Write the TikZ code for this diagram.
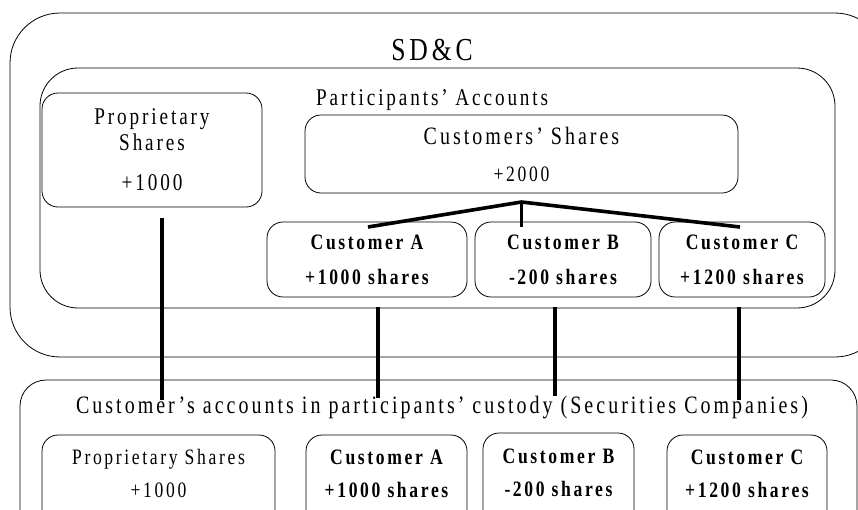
\documentclass[tikz,border=0pt]{standalone}
\usepackage{fontspec}
\setmainfont{Liberation Serif}[FakeStretch=0.8, LetterSpace=12]
\newcommand{\fsz}[1]{\fontsize{#1}{#1}\selectfont}
\begin{document}
\begin{tikzpicture}[x=1pt, y=-1pt,
  frame/.style={draw, line width=0.8pt, rounded corners=#1},
  box/.style={draw, line width=0.8pt, rounded corners=16pt, inner sep=0pt, align=center},
  lbl/.style={inner sep=0pt, align=center},
  link/.style={line width=3.6pt}]
\useasboundingbox (0,0) rectangle (858,509);
\clip (0,0) rectangle (858,509);

% SD&C depository and its participants' accounts
\draw[frame=50pt] (10,13) rectangle (885,357);
\node[lbl, font=\fsz{32}] (sdc) at (432,50) {SD\&C};
\draw[frame=38pt] (40,68) rectangle (835,308);
\node[lbl, font=\fsz{24}, anchor=west] (pacc) at (316,100) {Participants' Accounts};

\node[box, minimum width=220pt, minimum height=114pt, font=\fsz{24}] (prop) at (152,150)
  {Proprietary\\[2pt]Shares\\[16pt]+1000};
\node[box, minimum width=433pt, minimum height=78pt, font=\fsz{25}] (cust) at (521.5,154)
  {Customers' Shares\\[12pt]{\fsz{22}+2000}};

\node[box, minimum width=200pt, minimum height=75pt, font=\bfseries\fsz{22}] (ca) at (367,259.5)
  {Customer A\\[13pt]+1000 shares};
\node[box, minimum width=176pt, minimum height=75pt, font=\bfseries\fsz{22}] (cb) at (563,259.5)
  {Customer B\\[13pt]-200 shares};
\node[box, minimum width=166pt, minimum height=75pt, font=\bfseries\fsz{22}] (cc) at (742,259.5)
  {Customer C\\[13pt]+1200 shares};

% securities companies' custody accounts
\draw[frame=26pt] (20,380) rectangle (857,540);
\node[lbl, font=\fsz{25}] (ctitle) at (442,408)
  {Customer's accounts in participants' custody (Securities Companies)};

\node[box, minimum width=233pt, minimum height=100pt] (bprop) at (158.5,485) {};
\node[box, minimum width=161pt, minimum height=100pt] (ba) at (386.5,485) {};
\node[box, minimum width=151pt, minimum height=100pt] (bb) at (558.5,483) {};
\node[box, minimum width=160pt, minimum height=100pt] (bc) at (747,485) {};

\node[lbl, font=\fsz{22}] (bproptxt) at (bprop.north |- 0,473.5) {Proprietary Shares\\[11pt]+1000};
\node[lbl, font=\bfseries\fsz{22}] (batxt) at (ba.north |- 0,473.5) {Customer A\\[11pt]+1000 shares};
\node[lbl, font=\bfseries\fsz{22}] (bbtxt) at (bb.north |- 0,472.5) {Customer B\\[11pt]-200 shares};
\node[lbl, font=\bfseries\fsz{22}] (bctxt) at (bc.north |- 0,473.5) {Customer C\\[11pt]+1200 shares};

% links between the levels
\coordinate (apex) at (cust.south |- 0,202);
\coordinate (aTop) at (368,227);
\coordinate (bTop) at (cust.south |- 0,227);
\coordinate (cTop) at (740,227);
\draw[link] (aTop) -- (apex) -- (cTop);
\draw[link] (apex) -- (bTop);

\coordinate (p1) at (162,218);  \coordinate (p2) at (162,400);
\coordinate (a1) at (378,307);  \coordinate (a2) at (378,398);
\coordinate (b1) at (555,307);  \coordinate (b2) at (555,396);
\coordinate (c1) at (739,307);  \coordinate (c2) at (739,400);
\draw[link] (p1) -- (p2);
\draw[link] (a1) -- (a2);
\draw[link] (b1) -- (b2);
\draw[link] (c1) -- (c2);
\end{tikzpicture}
\end{document}
